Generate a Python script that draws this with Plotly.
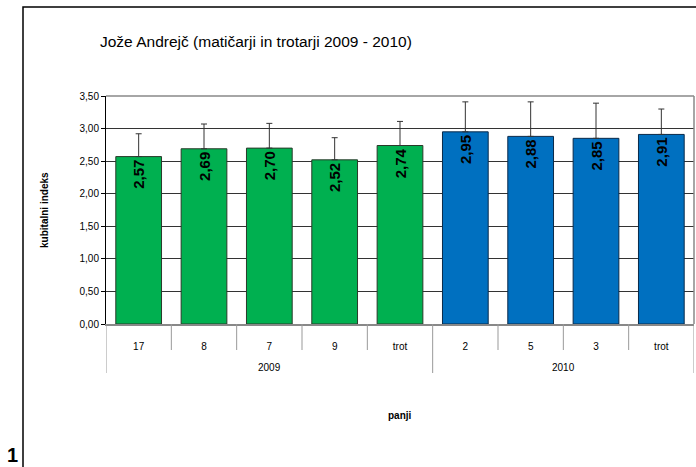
import plotly.graph_objects as go

years = ["2009", "2010"]
year_counts = [5, 4]
panji = ["17", "8", "7", "9", "trot", "2", "5", "3", "trot"]
values = [2.57, 2.69, 2.70, 2.52, 2.74, 2.95, 2.88, 2.85, 2.91]
errors = [0.35, 0.38, 0.38, 0.34, 0.37, 0.46, 0.53, 0.54, 0.39]
colors = ["#00B050"] * 5 + ["#0070C0"] * 4
outline = ["#2a3a2a"] * 5 + ["#0a2a4a"] * 4
y_ticks = [0, 0.5, 1.0, 1.5, 2.0, 2.5, 3.0, 3.5]

W, H = 696, 467
L, R, T, B = 106, 2, 96, 143
pw, ph = W - L - R, H - T - B

def px(x):
    return (x - L) / pw

def py(y):
    return (H - B - y) / ph

xs = list(range(len(panji)))

fig = go.Figure()
fig.add_trace(go.Bar(
    x=xs, y=values,
    marker=dict(color=colors, line=dict(color=outline, width=1)),
    width=0.7,
    error_y=dict(type="data", array=errors, arrayminus=[0] * len(errors),
                 symmetric=False, color="#333333", thickness=1, width=3),
    texttemplate="%{y:.2f}", textposition="inside", textangle=-90,
    insidetextanchor="end",
    textfont=dict(family="Liberation Sans, Arial", size=15, color="black", weight="bold"),
    cliponaxis=False,
))

shapes = [
    dict(type="rect", xref="paper", yref="paper",
         x0=px(23), x1=px(720), y0=py(490), y1=py(7),
         line=dict(color="black", width=1.5), layer="below"),
    dict(type="line", xref="paper", yref="paper",
         x0=0, x1=1, y0=1, y1=1, line=dict(color="#888888", width=1.5)),
    dict(type="line", xref="paper", yref="paper",
         x0=1, x1=1, y0=0, y1=1, line=dict(color="#888888", width=1.5)),
]
# category dividers
group_edges = [-0.5]
for c in year_counts:
    group_edges.append(group_edges[-1] + c)
for i in range(len(panji) + 1):
    xb = i - 0.5
    long = any(abs(xb - g) < 1e-9 for g in group_edges)
    shapes.append(dict(type="line", xref="x", yref="paper",
                       x0=xb, x1=xb, y0=0, y1=py(373 if long else 350),
                       line=dict(color="#999999", width=1)))

annotations = [
    dict(text="Jože Andrejč (matičarji in trotarji 2009 - 2010)",
         x=px(256), y=py(42), xref="paper", yref="paper",
         xanchor="center", yanchor="middle", showarrow=False,
         font=dict(size=15.5, family="Liberation Sans, Arial")),
    dict(text="<b>panji</b>", x=px(400), y=py(415), xref="paper", yref="paper",
         xanchor="center", yanchor="middle", showarrow=False,
         font=dict(size=10)),
    dict(text="<b>kubitalni indeks</b>", x=px(44), y=py(210), xref="paper", yref="paper",
         xanchor="center", yanchor="middle", showarrow=False, textangle=-90,
         font=dict(size=10)),
    dict(text="<b>1</b>", x=px(12), y=py(455), xref="paper", yref="paper",
         xanchor="center", yanchor="middle", showarrow=False,
         font=dict(size=20)),
]
for k, yr in enumerate(years):
    center = (group_edges[k] + group_edges[k + 1]) / 2
    annotations.append(dict(text=yr, x=center, y=py(367), xref="x", yref="paper",
                            xanchor="center", yanchor="middle", showarrow=False,
                            font=dict(size=10)))

fig.update_layout(
    width=W, height=H,
    margin=dict(l=L, r=R, t=T, b=B),
    paper_bgcolor="white", plot_bgcolor="white",
    separators=", ",
    showlegend=False,
    font=dict(family="Liberation Sans, Arial", color="black", size=10),
    annotations=annotations,
    shapes=shapes,
)

fig.update_yaxes(
    range=[0, 3.5], tickvals=y_ticks, tickformat=".2f",
    showgrid=True, gridcolor="#333333", gridwidth=1,
    showline=True, linecolor="black", linewidth=1,
    ticks="outside", ticklen=4, tickcolor="black",
    tickfont=dict(size=10), zeroline=False,
)
fig.update_xaxes(
    range=[-0.5, len(panji) - 0.5],
    tickvals=xs, ticktext=panji, ticks="",
    showline=True, linecolor="#888888", linewidth=1.5,
    showgrid=False, zeroline=False,
    tickfont=dict(size=10), ticklabelstandoff=12,
)

fig.write_html("out.html", config={"displayModeBar": False},
               post_script="document.body.style.margin='0';")
